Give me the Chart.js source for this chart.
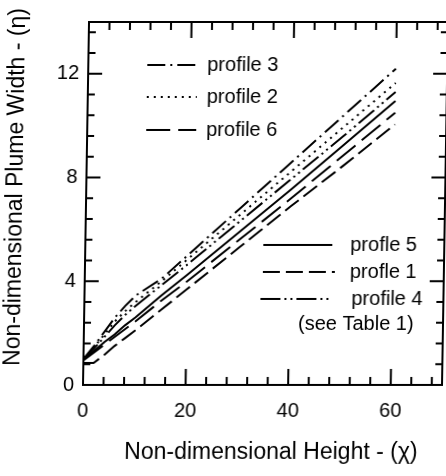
<!DOCTYPE html>
<html>
<head>
<meta charset="utf-8">
<script src="https://cdn.jsdelivr.net/npm/chart.js@4.4.1/dist/chart.umd.min.js"></script>
<style>
    html, body { margin: 0; padding: 0; background: #fff; }
    #plumeChart { display: block; transform: skewX(-0.95deg); transform-origin: 0 385px; }
</style>
</head>
<body>
<canvas id="plumeChart" width="446" height="476"></canvas>
<script>
// non-dimensional height (chi) where each profile is sampled
const heights = [0, 2, 4, 6, 8, 10, 15, 20, 30, 40, 50, 60];

// non-dimensional plume width (eta) for each profile
const profile3 = [1.0, 1.5, 2.05, 2.6, 3.05, 3.45, 4.1, 5.0, 6.8, 8.6, 10.4, 12.2];
const profile2 = [1.0, 1.45, 1.95, 2.45, 2.85, 3.2, 4.0, 4.85, 6.55, 8.25, 9.95, 11.65];
const profile4 = [1.0, 1.4, 1.85, 2.3, 2.7, 3.05, 3.85, 4.65, 6.3, 7.95, 9.6, 11.3];
const profile5 = [1.0, 1.3, 1.65, 1.95, 2.3, 2.6, 3.45, 4.25, 5.9, 7.55, 9.25, 10.95];
const profile6 = [0.95, 1.25, 1.55, 1.85, 2.15, 2.45, 3.25, 4.0, 5.6, 7.2, 8.85, 10.5];
const profile1 = [0.85, 0.85, 1.15, 1.5, 1.8, 2.1, 2.9, 3.7, 5.3, 6.9, 8.45, 10.05];

const xTickLabels = [0, 20, 40, 60];
const yTickLabels = [0, 4, 8, 12];

const FONT = '"Liberation Sans", Arial, Helvetica, sans-serif';

function toPoints(values) {
    return heights.map((h, i) => ({ x: h, y: values[i] }));
}

function profileSet(label, values, dash) {
    return {
        label: label,
        data: toPoints(values),
        borderColor: '#000',
        borderWidth: 2,
        borderDash: dash,
        borderCapStyle: 'butt',
        pointRadius: 0,
        tension: 0,
        fill: false
    };
}

// where each legend entry sits: sample line from x0 to x1, text at tx
const legendSlots = [
    { x0: 142, x1: 192, tx: 202, y: 65 },
    { x0: 142, x1: 192, tx: 202, y: 97 },
    { x0: 142, x1: 192, tx: 202, y: 130 },
    { x0: 261, x1: 330, tx: 348, y: 245 },
    { x0: 261, x1: 333, tx: 348, y: 272 },
    { x0: 259, x1: 327, tx: 350, y: 299 }
];

const framePlugin = {
    id: 'framePlugin',
    afterDraw(chart) {
        const { ctx, chartArea: a } = chart;
        const xs = chart.scales.x;
        const ys = chart.scales.y;
        ctx.save();
        ctx.strokeStyle = '#000';
        ctx.fillStyle = '#000';
        ctx.lineWidth = 2;
        ctx.strokeRect(a.left, a.top, a.right - a.left, a.bottom - a.top);

        // inward tick marks on all four sides
        ctx.beginPath();
        for (let i = 0; i <= 17; i++) {
            const v = i * 4;
            const px = xs.getPixelForValue(v);
            const len = v % 20 === 0 ? 16 : 8;
            ctx.moveTo(px, a.bottom); ctx.lineTo(px, a.bottom - len);
            ctx.moveTo(px, a.top); ctx.lineTo(px, a.top + len);
        }
        for (let i = 0; i <= 17; i++) {
            const py = ys.getPixelForValue(i * 0.8);
            const len = i % 5 === 0 ? 14 : 7;
            ctx.moveTo(a.left, py); ctx.lineTo(a.left + len, py);
            ctx.moveTo(a.right, py); ctx.lineTo(a.right - len, py);
        }
        ctx.stroke();

        // legend entries
        ctx.font = '20px ' + FONT;
        ctx.textBaseline = 'middle';
        ctx.textAlign = 'left';
        chart.data.datasets.forEach((ds, i) => {
            const s = legendSlots[i];
            ctx.save();
            ctx.setLineDash(ds.borderDash || []);
            ctx.lineWidth = 2;
            ctx.beginPath();
            ctx.moveTo(s.x0, s.y);
            ctx.lineTo(s.x1, s.y);
            ctx.stroke();
            ctx.restore();
            ctx.fillText(ds.label, s.tx, s.y);
        });
        ctx.fillText('(see Table 1)', 297, 324);

        // axis titles
        ctx.font = '23px ' + FONT;
        ctx.textAlign = 'center';
        ctx.fillText('Non-dimensional Height - (\u03C7)', 272, 453);
        ctx.translate(13, 187);
        ctx.rotate(-Math.PI / 2);
        ctx.fillText('Non-dimensional Plume Width - (\u03B7)', 0, 0);
        ctx.restore();
    }
};

new Chart(document.getElementById('plumeChart'), {
    type: 'line',
    data: {
        datasets: [
            profileSet('profile 3', profile3, [18, 5, 2, 5]),
            profileSet('profile 2', profile2, [2, 5]),
            profileSet('profile 6', profile6, [24, 8]),
            profileSet('profle 5', profile5, []),
            profileSet('profle 1', profile1, [17, 6]),
            profileSet('profile 4', profile4, [20, 4, 2, 4, 2, 4])
        ]
    },
    options: {
        responsive: false,
        animation: false,
        events: [],
        layout: { padding: { top: 22, right: 4, left: 0, bottom: 0 } },
        plugins: { legend: { display: false }, tooltip: { enabled: false } },
        scales: {
            x: {
                type: 'linear',
                min: 0,
                max: 70,
                grid: { display: false, drawTicks: false },
                border: { display: false },
                afterBuildTicks: s => { s.ticks = xTickLabels.map(v => ({ value: v })); },
                afterFit: s => { s.height = 91; },
                ticks: { color: '#000', padding: 14, font: { family: FONT, size: 20 } }
            },
            y: {
                type: 'linear',
                min: 0,
                max: 14,
                grid: { display: false, drawTicks: false },
                border: { display: false },
                afterBuildTicks: s => { s.ticks = yTickLabels.map(v => ({ value: v })); },
                afterFit: s => { s.width = 83; },
                ticks: { color: '#000', padding: 9, font: { family: FONT, size: 20 } }
            }
        }
    },
    plugins: [framePlugin]
});
</script>
</body>
</html>
